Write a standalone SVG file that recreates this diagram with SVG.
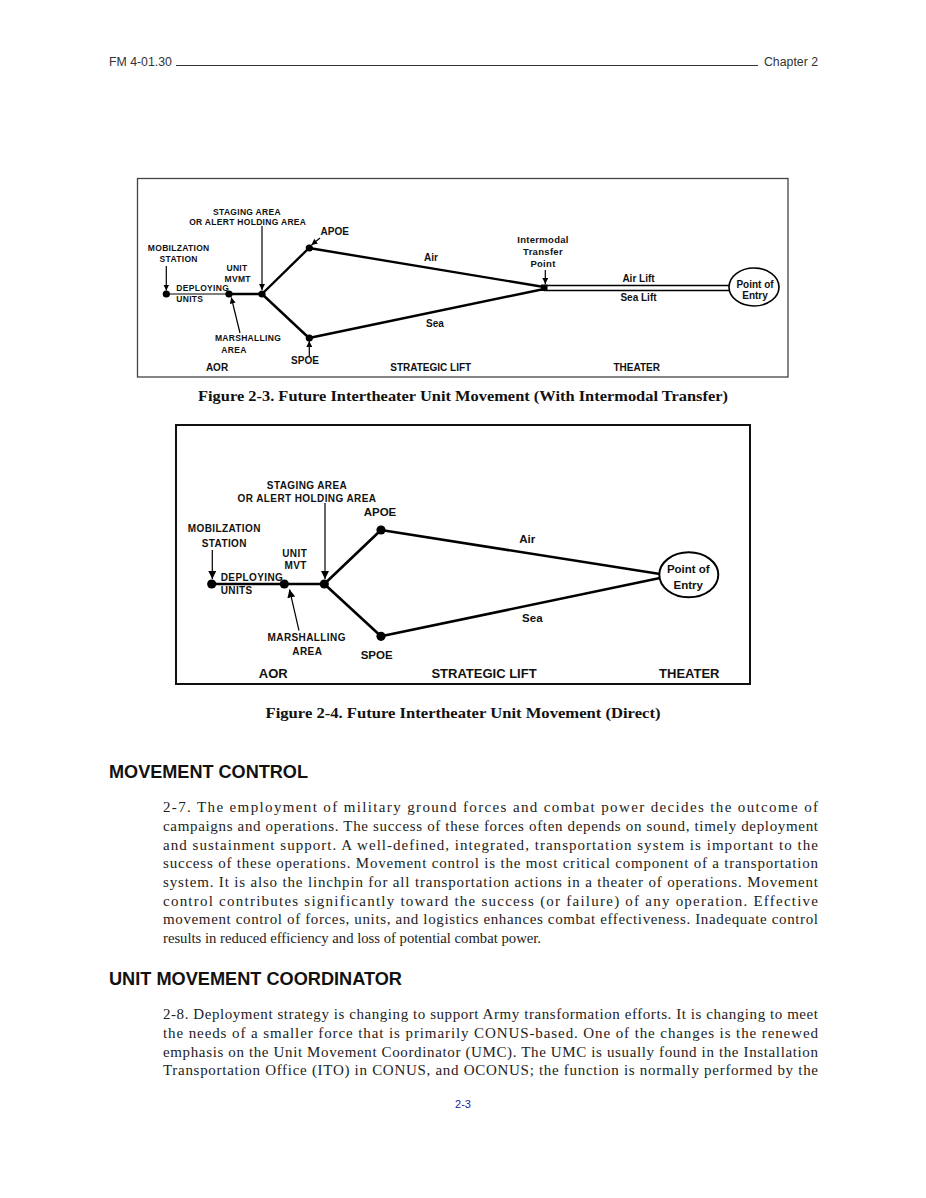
<svg xmlns="http://www.w3.org/2000/svg" width="926" height="1198" viewBox="0 0 926 1198">
<style>
.pg{fill:#fff}
.hdr{font-family:"Liberation Sans",Arial,sans-serif;font-size:12.3px;fill:#333}
.b3{font-family:"Liberation Sans",Arial,sans-serif;font-weight:bold;font-size:8.5px;letter-spacing:0.3px;fill:#111}
.b3i{font-family:"Liberation Sans",Arial,sans-serif;font-weight:bold;font-size:9.5px;letter-spacing:0.3px;fill:#111}
.b3l{font-family:"Liberation Sans",Arial,sans-serif;font-weight:bold;font-size:10px;fill:#111}
.b4{font-family:"Liberation Sans",Arial,sans-serif;font-weight:bold;font-size:10px;letter-spacing:0.4px;fill:#111}
.b4m{font-family:"Liberation Sans",Arial,sans-serif;font-weight:bold;font-size:11.5px;fill:#111}
.b4l{font-family:"Liberation Sans",Arial,sans-serif;font-weight:bold;font-size:13px;fill:#111}
.c{text-anchor:middle}
.cap{font-family:"Liberation Serif","Times New Roman",serif;font-weight:bold;font-size:14.5px;fill:#111}
.h{font-family:"Liberation Sans",Arial,sans-serif;font-weight:bold;font-size:18px;fill:#111}
.body{font-family:"Liberation Serif","Times New Roman",serif;font-size:15px;fill:#222}
.thin{stroke:#000;stroke-width:1.2;fill:none}
.thick3{stroke:#000;stroke-width:2.4;fill:none}
.thick4{stroke:#000;stroke-width:2.6;fill:none}
.dot{fill:#000}
</style>
<defs>
<marker id="ah3" markerUnits="userSpaceOnUse" markerWidth="7" markerHeight="6" refX="6" refY="3" orient="auto"><path d="M0,0 L6,3 L0,6 Z" fill="#000"/></marker>
<marker id="ah4" markerUnits="userSpaceOnUse" markerWidth="9" markerHeight="8" refX="8" refY="4" orient="auto"><path d="M0,0 L8,4 L0,8 Z" fill="#000"/></marker>
</defs>
<rect class="pg" x="0" y="0" width="926" height="1198"/>

<g id="header">
<text class="hdr" x="109" y="65.5">FM 4-01.30</text>
<line x1="176" y1="65.5" x2="758" y2="65.5" stroke="#333" stroke-width="1"/>
<text class="hdr" x="818" y="65.5" text-anchor="end">Chapter 2</text>
</g>

<!-- Figure 2-3 -->
<g id="fig23-frame"><rect x="137.5" y="178.5" width="650.5" height="198.5" fill="none" stroke="#444" stroke-width="1.3"/></g>

<g id="fig23-connectors">
<line class="thin" x1="166" y1="294" x2="229" y2="294"/>
<line class="thick3" x1="229" y1="294" x2="262" y2="294"/>
<line class="thick3" x1="262" y1="294" x2="309" y2="248"/>
<line class="thick3" x1="262" y1="294" x2="309" y2="338"/>
<line class="thick3" x1="309" y1="248" x2="544" y2="287"/>
<line class="thick3" x1="309" y1="338" x2="544" y2="289"/>
<line stroke="#000" stroke-width="1.5" x1="544" y1="285.5" x2="730" y2="285.5"/>
<line stroke="#000" stroke-width="1.5" x1="544" y1="290.5" x2="730" y2="290.5"/>
<line class="thin" stroke-width="1" x1="166.3" y1="266" x2="166.3" y2="290.5" marker-end="url(#ah3)"/>
<line class="thin" stroke-width="1" x1="262" y1="226" x2="262" y2="290" marker-end="url(#ah3)"/>
<line class="thin" stroke-width="1" x1="240" y1="333" x2="231.3" y2="297.5" marker-end="url(#ah3)"/>
<line class="thin" stroke-width="1" x1="320" y1="238" x2="311.5" y2="245" marker-end="url(#ah3)"/>
<line class="thin" stroke-width="1" x1="309.3" y1="356" x2="309.3" y2="341" marker-end="url(#ah3)"/>
<line class="thin" stroke-width="1" x1="545.3" y1="270" x2="545.3" y2="284" marker-end="url(#ah3)"/>
<text class="b3l c" x="431" y="260.5">Air</text>
<text class="b3l c" x="435" y="326.5">Sea</text>
<text class="b3l c" x="638.5" y="282">Air Lift</text>
<text class="b3l c" x="638.5" y="300.5">Sea Lift</text>
</g>

<g id="fig23-mobilization">
<circle class="dot" cx="166.3" cy="294" r="3.6"/>
<text class="b3 c" x="178.7" y="250.7">MOBILZATION</text>
<text class="b3 c" x="178.7" y="262.3">STATION</text>
<text class="b3" x="176.3" y="290.7">DEPLOYING</text>
<text class="b3" x="176.3" y="302.3">UNITS</text>
</g>
<g id="fig23-marshalling">
<circle class="dot" cx="229" cy="294" r="3.6"/>
<text class="b3 c" x="248" y="341.3">MARSHALLING</text>
<text class="b3 c" x="234" y="352.7">AREA</text>
</g>
<g id="fig23-staging">
<circle class="dot" cx="262" cy="294" r="3.6"/>
<text class="b3 c" x="247" y="214.7">STAGING AREA</text>
<text class="b3 c" x="247.7" y="225.3">OR ALERT HOLDING AREA</text>
<text class="b3 c" x="237" y="271.3">UNIT</text>
<text class="b3 c" x="237.7" y="282">MVMT</text>
</g>
<g id="fig23-apoe">
<circle class="dot" cx="309.3" cy="248" r="3.6"/>
<text class="b3l c" x="334.7" y="235.3">APOE</text>
</g>
<g id="fig23-spoe">
<circle class="dot" cx="309.3" cy="338" r="3.6"/>
<text class="b3l c" x="305" y="364">SPOE</text>
</g>
<g id="fig23-intermodal">
<rect x="541" y="284.5" width="6.5" height="6.5" fill="#000"/>
<text class="b3i c" x="543" y="243">Intermodal</text>
<text class="b3i c" x="543" y="254.7">Transfer</text>
<text class="b3i c" x="543" y="267.3">Point</text>
</g>
<g id="fig23-entry">
<ellipse cx="754" cy="287" rx="25" ry="19" fill="#fff" stroke="#000" stroke-width="1.6"/>
<text class="b3l c" x="755" y="288">Point of</text>
<text class="b3l c" x="755" y="298.7">Entry</text>
</g>
<g id="fig23-regions">
<text class="b3l c" x="217" y="371">AOR</text>
<text class="b3l c" x="430.7" y="371">STRATEGIC LIFT</text>
<text class="b3l c" x="636.7" y="371">THEATER</text>
</g>
<text class="cap c" x="463" y="401" textLength="530" lengthAdjust="spacingAndGlyphs">Figure 2-3.  Future Intertheater Unit Movement (With Intermodal Transfer)</text>

<!-- Figure 2-4 -->
<g id="fig24-frame"><rect x="176" y="425" width="574" height="259" fill="none" stroke="#111" stroke-width="2"/></g>

<g id="fig24-connectors">
<line class="thick4" x1="212" y1="584" x2="324.3" y2="584"/>
<line class="thick4" x1="324.3" y1="584" x2="381" y2="530"/>
<line class="thick4" x1="324.3" y1="584" x2="381" y2="636.3"/>
<line class="thick4" x1="381" y1="530" x2="660" y2="574"/>
<line class="thick4" x1="381" y1="636.3" x2="660" y2="578"/>
<line class="thin" stroke-width="1.5" x1="212.3" y1="550" x2="212.3" y2="579" marker-end="url(#ah4)"/>
<line class="thin" stroke-width="1.5" x1="325" y1="503" x2="325" y2="579" marker-end="url(#ah4)"/>
<line class="thin" stroke-width="1.5" x1="299" y1="630.7" x2="289.5" y2="589.5" marker-end="url(#ah4)"/>
<text class="b4m c" x="527.3" y="543.3">Air</text>
<text class="b4m c" x="532.3" y="622.3">Sea</text>
</g>

<g id="fig24-mobilization">
<circle class="dot" cx="211.7" cy="584" r="4.6"/>
<text class="b4 c" x="224.3" y="532.3">MOBILZATION</text>
<text class="b4 c" x="224.3" y="546.7">STATION</text>
<text class="b4" x="220.7" y="580.7">DEPLOYING</text>
<text class="b4" x="220.7" y="594.3">UNITS</text>
</g>
<g id="fig24-marshalling">
<circle class="dot" cx="284.3" cy="584" r="4.6"/>
<text class="b4 c" x="306.7" y="641.3">MARSHALLING</text>
<text class="b4 c" x="307.3" y="654.7">AREA</text>
</g>
<g id="fig24-staging">
<circle class="dot" cx="324.3" cy="584" r="4.6"/>
<text class="b4 c" x="307" y="489">STAGING AREA</text>
<text class="b4 c" x="307" y="502.3">OR ALERT HOLDING AREA</text>
<text class="b4 c" x="294.7" y="556.7">UNIT</text>
<text class="b4 c" x="295.7" y="569.3">MVT</text>
</g>
<g id="fig24-apoe">
<circle class="dot" cx="381" cy="530" r="4.6"/>
<text class="b4m c" x="380" y="515.7">APOE</text>
</g>
<g id="fig24-spoe">
<circle class="dot" cx="381" cy="636.3" r="4.6"/>
<text class="b4m c" x="376.7" y="659">SPOE</text>
</g>
<g id="fig24-entry">
<ellipse cx="688.8" cy="574.8" rx="29.5" ry="22.5" fill="#fff" stroke="#000" stroke-width="2"/>
<text class="b4m c" x="688.3" y="573.3">Point of</text>
<text class="b4m c" x="688.3" y="589">Entry</text>
</g>
<g id="fig24-regions">
<text class="b4l c" x="273.3" y="678">AOR</text>
<text class="b4l c" x="484" y="678">STRATEGIC LIFT</text>
<text class="b4l c" x="689.3" y="678">THEATER</text>
</g>
<text class="cap c" x="463" y="718" textLength="395" lengthAdjust="spacingAndGlyphs">Figure 2-4.  Future Intertheater Unit Movement (Direct)</text>

<!-- Body text -->
<text class="h" x="109" y="778" textLength="199" lengthAdjust="spacingAndGlyphs">MOVEMENT CONTROL</text>
<g class="body">
<text x="163" y="812" textLength="655" lengthAdjust="spacing">2-7. The employment of military ground forces and combat power decides the outcome of</text>
<text x="163" y="831" textLength="655" lengthAdjust="spacing">campaigns and operations.  The success of these forces often depends on sound, timely deployment</text>
<text x="163" y="849.5" textLength="655" lengthAdjust="spacing">and sustainment support.  A well-defined, integrated, transportation system is important to the</text>
<text x="163" y="868" textLength="655" lengthAdjust="spacing">success of these operations.  Movement control is the most critical component of a transportation</text>
<text x="163" y="887" textLength="655" lengthAdjust="spacing">system.  It is also the linchpin for all transportation actions in a theater of operations.  Movement</text>
<text x="163" y="905.5" textLength="655" lengthAdjust="spacing">control contributes significantly toward the success (or failure) of any operation.  Effective</text>
<text x="163" y="924" textLength="655" lengthAdjust="spacing">movement control of forces, units, and logistics enhances combat effectiveness.  Inadequate control</text>
<text x="163" y="943" textLength="378" lengthAdjust="spacingAndGlyphs">results in reduced efficiency and loss of potential combat power.</text>
</g>
<text class="h" x="109" y="985" textLength="293" lengthAdjust="spacingAndGlyphs">UNIT MOVEMENT COORDINATOR</text>
<g class="body">
<text x="163" y="1019" textLength="655" lengthAdjust="spacing">2-8. Deployment strategy is changing to support Army transformation efforts.  It is changing to meet</text>
<text x="163" y="1038" textLength="655" lengthAdjust="spacing">the needs of a smaller force that is primarily CONUS-based.  One of the changes is the renewed</text>
<text x="163" y="1056.5" textLength="655" lengthAdjust="spacing">emphasis on the Unit Movement Coordinator (UMC).  The UMC is usually found in the Installation</text>
<text x="163" y="1075" textLength="655" lengthAdjust="spacing">Transportation Office (ITO) in CONUS, and OCONUS; the function is normally performed by the</text>
</g>
<text x="463" y="1108" text-anchor="middle" font-family="Liberation Sans,Arial,sans-serif" font-size="11" fill="#1a1aa6">2-3</text>
</svg>
